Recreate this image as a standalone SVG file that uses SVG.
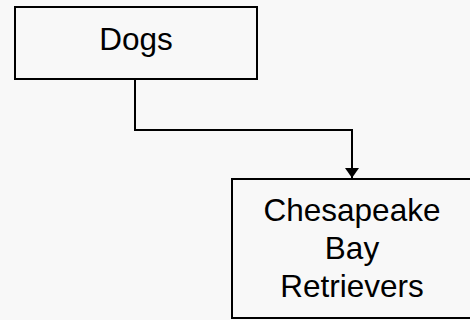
<svg xmlns="http://www.w3.org/2000/svg" width="470" height="320" viewBox="0 0 470 320">
<style>
.box{fill:#f8f8f8;stroke:#000;stroke-width:2}
.lbl{font-family:"Liberation Sans",Arial,sans-serif;font-size:31.5px;fill:#000;text-anchor:middle}
.conn{fill:none;stroke:#000;stroke-width:2}
</style>
<defs>
<marker id="arr" markerUnits="userSpaceOnUse" markerWidth="12" markerHeight="16" refX="10" refY="7" orient="auto">
<path d="M0,0 L10,7 L0,14 Z" fill="#000"/>
</marker>
</defs>
<rect width="470" height="320" fill="#f8f8f8"/>
<g id="connectors">
<path class="conn" d="M135,80 V130 H352 V178" marker-end="url(#arr)"/>
</g>
<g id="dogs">
<rect class="box" x="15" y="7" width="242" height="72"/>
<text class="lbl" x="136" y="50">Dogs</text>
</g>
<g id="chesapeake">
<rect class="box" x="232" y="179" width="240" height="139"/>
<text class="lbl" x="352" y="221">Chesapeake</text>
<text class="lbl" x="352" y="259">Bay</text>
<text class="lbl" x="352" y="297">Retrievers</text>
</g>
</svg>
